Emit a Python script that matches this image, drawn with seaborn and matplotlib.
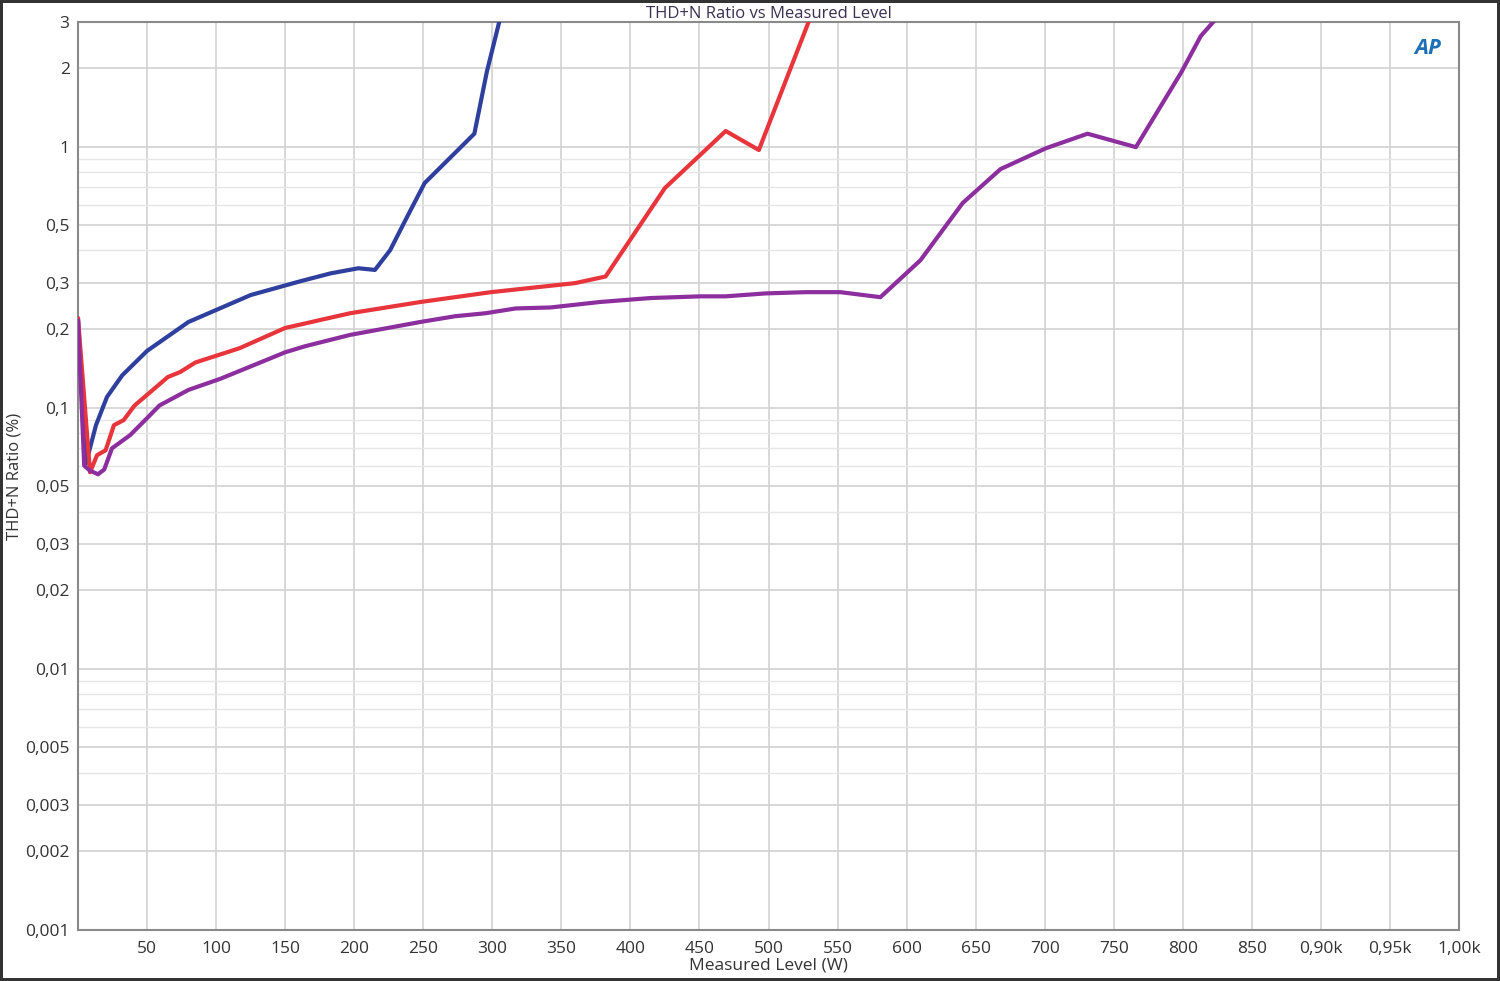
import matplotlib
matplotlib.use("Agg")
import matplotlib.pyplot as plt
import matplotlib.ticker as mticker
import numpy as np
import pandas as pd
import seaborn as sns

# values
blue_x = [0, 5.8, 13, 21, 32, 50, 80, 125, 161, 183, 203, 215, 226, 239, 251, 287, 296, 305, 312]
blue_y = [0.22, 0.0612, 0.0857, 0.110, 0.133, 0.165, 0.213, 0.270, 0.305, 0.327, 0.342, 0.337,
          0.401, 0.547, 0.725, 1.12, 1.93, 3.0, 4.0]

red_x = [0, 8.7, 13.8, 20, 26, 33, 41, 50, 65, 74, 85, 117, 150, 197, 248, 299, 360, 382,
         425, 469, 493, 529, 540]
red_y = [0.22, 0.0566, 0.0658, 0.0687, 0.0857, 0.0896, 0.102, 0.112, 0.131, 0.137, 0.149,
         0.169, 0.202, 0.230, 0.254, 0.277, 0.300, 0.318, 0.694, 1.147, 0.970, 3.0, 4.0]

purple_x = [0, 4.5, 8.5, 14.5, 19, 24.6, 37.7, 50, 59, 80, 103, 132, 150, 164.5, 197, 248,
            273, 295, 317, 342, 378, 414.5, 451, 469, 498, 527, 552, 581, 610, 640.6, 668,
            701, 731, 766, 799, 813, 822, 830]
purple_y = [0.216, 0.0600, 0.0575, 0.0556, 0.0580, 0.0699, 0.0785, 0.0912, 0.102, 0.117,
            0.129, 0.149, 0.163, 0.172, 0.190, 0.213, 0.224, 0.230, 0.240, 0.242, 0.254,
            0.263, 0.267, 0.267, 0.274, 0.277, 0.277, 0.265, 0.367, 0.608, 0.820, 0.986,
            1.12, 0.995, 1.93, 2.65, 3.0, 3.5]

y_major = [0.001, 0.002, 0.003, 0.005, 0.01, 0.02, 0.03, 0.05, 0.1, 0.2, 0.3, 0.5, 1, 2, 3]
y_labels = ['0,001', '0,002', '0,003', '0,005', '0,01', '0,02', '0,03', '0,05', '0,1',
            '0,2', '0,3', '0,5', '1', '2', '3']
x_ticks = list(range(50, 1001, 50))
x_labels = [str(v) for v in range(50, 851, 50)] + ['0,90k', '0,95k', '1,00k']

df = pd.concat([
    pd.DataFrame({'level': blue_x, 'thd': blue_y, 'run': 'blue'}),
    pd.DataFrame({'level': red_x, 'thd': red_y, 'run': 'red'}),
    pd.DataFrame({'level': purple_x, 'thd': purple_y, 'run': 'purple'}),
])
palette = {'blue': '#2f3f9e', 'red': '#e8343b', 'purple': '#8c2e9e'}

sns.set_style('white')
plt.rcParams['font.family'] = ['Open Sans', 'DejaVu Sans']

fig = plt.figure(figsize=(15, 9.81), dpi=100)
fig.patch.set_edgecolor('#333333')
fig.patch.set_linewidth(3)
ax = fig.add_axes([0.052, 0.052, 0.9207, 0.9256])

sns.lineplot(data=df, x='level', y='thd', hue='run', palette=palette, sort=False,
             estimator=None, linewidth=3, legend=False, ax=ax, zorder=3)

ax.set_yscale('log')
ax.set_xlim(0, 1000)
ax.set_ylim(0.001, 3)

ax.yaxis.set_major_locator(mticker.FixedLocator(y_major))
ax.yaxis.set_major_formatter(mticker.FixedFormatter(y_labels))
ax.yaxis.set_minor_locator(mticker.LogLocator(base=10, subs=np.arange(2, 10), numticks=20))
ax.yaxis.set_minor_formatter(mticker.NullFormatter())
ax.set_xticks(x_ticks)
ax.set_xticklabels(x_labels)

ax.grid(which='major', color='#d2d2d2', linewidth=1.2)
ax.grid(which='minor', axis='y', color='#e6e6e6', linewidth=1)
ax.tick_params(which='both', length=0, labelsize=12.5, colors='#333333')
ax.tick_params(axis='x', pad=8)
ax.tick_params(axis='y', pad=6)
for s in ax.spines.values():
    s.set_color('#8a8a8a')
    s.set_linewidth(1.5)

ax.set_xlabel('Measured Level (W)', fontsize=12.5, color='#333333', labelpad=0)
ax.set_ylabel('THD+N Ratio (%)', fontsize=12, color='#333333')
ax.yaxis.set_label_coords(-0.040, 0.5)
ax.set_title('THD+N Ratio vs Measured Level', fontsize=12, color='#3a3050', pad=3)

ax.text(0.977, 0.971, 'AP', transform=ax.transAxes, fontsize=16, fontweight='bold',
        fontstyle='italic', color='#1f6fb5', ha='center', va='center')

fig.savefig('out.png', dpi=100)
